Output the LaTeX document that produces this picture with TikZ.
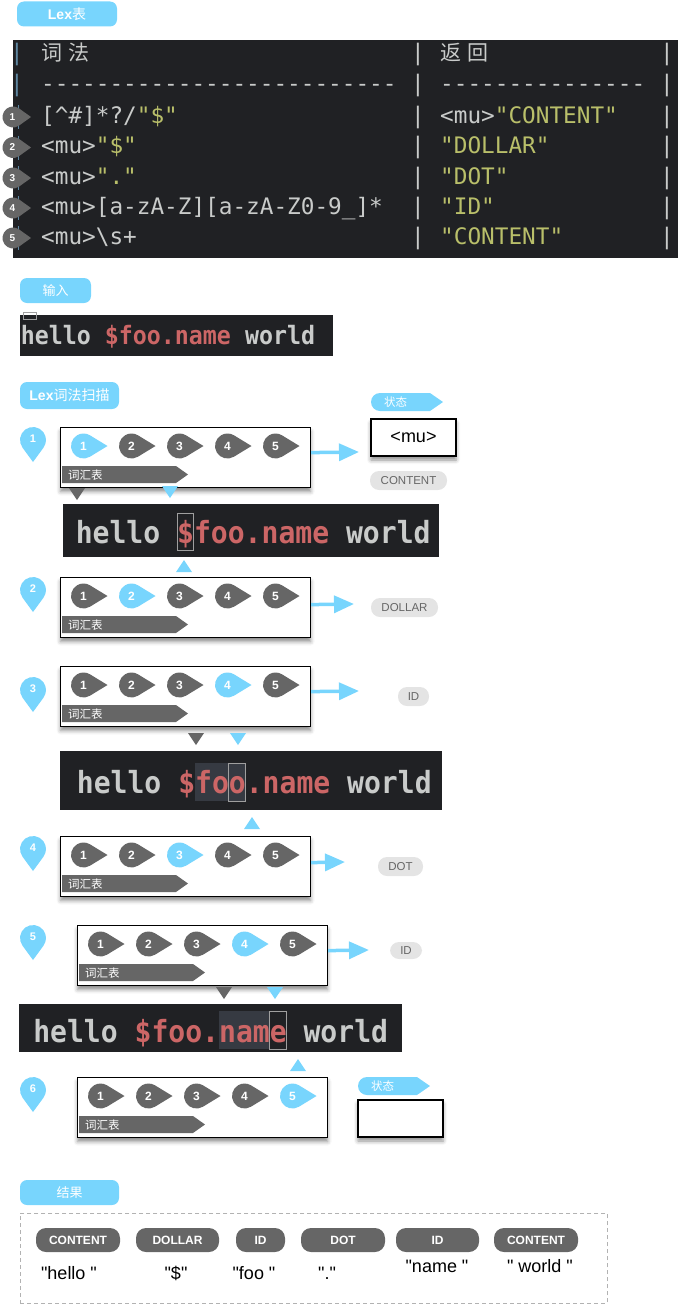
\documentclass[tikz,border=0pt]{standalone}
\usepackage{fontspec}
\setmainfont[Ligatures=TeXOff]{Liberation Sans}
\newfontfamily\cjk{Noto Sans CJK SC}
\newfontfamily\codefont[Ligatures=TeXOff]{DejaVu Sans Mono}
\newfontfamily\stripfont[Ligatures=TeXOff,FakeStretch=0.92]{DejaVu Sans Mono}
\usepackage{tikz}
\usetikzlibrary{shapes,arrows.meta}
\usetikzlibrary{calc}
\usetikzlibrary{shadows.blur}

\definecolor{lexblue}{HTML}{78D5FD}
\definecolor{markgray}{HTML}{666666}
\definecolor{codebg}{HTML}{202124}
\definecolor{codetext}{HTML}{C9CBCA}
\definecolor{codeyellow}{HTML}{B9BF6A}
\definecolor{codered}{HTML}{CC6666}
\definecolor{codepipe}{HTML}{5E86A0}
\definecolor{pillgray}{HTML}{E4E4E4}
\definecolor{pilltext}{HTML}{666666}
\definecolor{hlbg}{HTML}{363A42}

\tikzset{
	headpill/.style={fill=lexblue, rounded corners=7pt, text=white, inner sep=0pt, minimum height=25pt, font=\fontsize{14}{16}\selectfont},
	stepbox/.style={draw=black, line width=1.2pt, fill=white, minimum width=250pt, minimum height=60pt, anchor=north west,
		blur shadow={shadow xshift=0pt, shadow yshift=-4pt, shadow blur radius=4pt, shadow opacity=45}},
	statebox/.style={draw=black, line width=1.2pt, fill=white, minimum width=85pt, minimum height=37pt, inner sep=0pt,
		font=\fontsize{18}{20}\selectfont, blur shadow={shadow xshift=0pt, shadow yshift=-4pt, shadow blur radius=4pt, shadow opacity=45}},
	strip/.style={fill=codebg, anchor=north west, inner sep=0pt},
	striptext/.style={anchor=base west, inner sep=0pt, text=codetext, font=\stripfont\bfseries\fontsize{30.5}{32}\selectfont},
	cursor/.style={draw=gray!75, line width=1pt},
	tabrow/.style={anchor=base west, inner sep=0pt, text=codetext, font=\codefont\fontsize{22.7}{24}\selectfont},
	tabpipe/.style={anchor=base, inner sep=0pt, text=codetext, font=\codefont\fontsize{22.7}{24}\selectfont},
	marknum/.style={text=white, inner sep=0pt, font=\bfseries\fontsize{12}{14}\selectfont},
	greypill/.style={fill=pillgray, rounded corners=9pt, text=pilltext, inner sep=0pt, minimum height=19pt, font=\fontsize{11.5}{13}\selectfont},
	tokpill/.style={fill=markgray, rounded corners=10pt, text=white, inner sep=0pt, minimum height=24pt, font=\bfseries\fontsize{12}{14}\selectfont},
	tokval/.style={inner sep=0pt, font=\fontsize{18}{20}\selectfont},
	flowarrow/.style={draw=lexblue, line width=3.5pt, -{Triangle[length=20pt,width=17pt]}},
}

\begin{document}
\begin{tikzpicture}[x=1pt,y=-1pt]
	\useasboundingbox (0,0) rectangle (678,1306);
	\def\cw{16.9} % char width in the code strips
	
	% helpers
	\def\rulemark#1#2#3#4#5{% name, x, y, number, colour
		\fill[fill=#5] (#2+24,#3) -- ([shift={(58.7:12.5)}]#2,#3) arc[start angle=58.7, end angle=301.3, radius=12.5] -- cycle;
		\node[marknum] (#1) at (#2,#3) {#4};
	}
	\def\tabmark#1#2{% number, y
		\draw[codepipe, line width=1.6pt] (18.5,#2-12) -- (18.5,#2+12);
		\fill[markgray] (31,#2) -- ([shift={(54.3:10.5)}]13,#2) arc[start angle=54.3, end angle=305.7, radius=10.5] -- cycle;
		\node[marknum, font=\bfseries\fontsize{10}{12}\selectfont] (tm#1) at (12.5,#2) {#1};
	}
	\def\lexpin#1#2{% number, top y
		\fill[lexblue] (33,#2+35) -- ([shift={(143.8:13)}]33,#2+13) arc[start angle=143.8, end angle=396.2, radius=13] -- cycle;
		\node[marknum, font=\bfseries\fontsize{11}{13}\selectfont] (pin#1) at (33,#2+12) {#1};
	}
	\def\lexstep#1#2#3#4{% step, left x, top y, rule in use
		\node[stepbox] (box#1) at (#2,#3) {};
		\foreach \k in {1,...,5} {
			\pgfmathsetmacro\xm{#2+23.5+48*(\k-1)}
			\ifnum\k=#4 \def\mc{lexblue}\else\def\mc{markgray}\fi
			\rulemark{b#1m\k}{\xm}{#3+19}{\k}{\mc}
		}
		\fill[markgray] (#2+2,#3+39) -- (#2+116,#3+39) -- (#2+128,#3+47.5) -- (#2+116,#3+56) -- (#2+2,#3+56) -- cycle;
		\node[anchor=west, inner sep=0pt, text=white, font=\cjk\fontsize{11.5}{13}\selectfont] (vocab#1) at (#2+8,#3+48) {词汇表};
	}
	\def\downtri#1#2#3{% colour, x, top y
		\fill[fill=#1] (#2-8,#3) -- (#2+8,#3) -- (#2,#3+12) -- cycle;
	}
	\def\uptri#1#2#3{% colour, x, top y
		\fill[fill=#1] (#2,#3) -- (#2+8,#3+12) -- (#2-8,#3+12) -- cycle;
	}
	\def\statetag#1#2#3{% name, left x, top y
		\fill[lexblue] (#2+72,#3+9) -- (#2+59,#3+18) -- (#2+9,#3+18) arc[start angle=90, end angle=270, radius=9] -- (#2+59,#3) -- cycle;
		\node[anchor=west, inner sep=0pt, text=white, font=\cjk\fontsize{11.5}{13}\selectfont] (#1) at (#2+13,#3+9.5) {状态};
	}
	
	% Lex table
	\node[headpill, minimum width=100pt] (lextitle) at (67,14) {\textbf{Lex}{\cjk 表}};
	\node[strip, minimum width=665pt, minimum height=218pt] (lextable) at (13,40) {};
	\node[tabpipe, text=codepipe] (lp1) at (17,61) {|};
	\node[tabpipe, text=codepipe] (lp2) at (17,92) {|};
	\foreach \y [count=\i] in {61,92,123,153.5,184,214,244.5} {
		\node[tabpipe] (mp\i) at (418,\y) {|};
		\node[tabpipe] (rp\i) at (667,\y) {|};
	}
	\node[tabrow, font=\cjk\fontsize{21}{24}\selectfont] (head1) at (41,60) {词\hspace{6.4pt}法};
	\node[tabrow, font=\cjk\fontsize{21}{24}\selectfont] (head2) at (440,60) {返\hspace{6.4pt}回};
	\node[tabrow] (dash1) at (41,92) {--------------------------};
	\node[tabrow] (dash2) at (440,92) {---------------};
	\node[tabrow] (rule1) at (41,123) {[\textasciicircum\#]*?/\textcolor{codeyellow}{"\$"}};
	\node[tabrow] (rule2) at (41,153.5) {<mu>\textcolor{codeyellow}{"\$"}};
	\node[tabrow] (rule3) at (41,184) {<mu>\textcolor{codeyellow}{"."}};
	\node[tabrow] (rule4) at (41,214) {<mu>[a-zA-Z][a-zA-Z0-9\_]*};
	\node[tabrow] (rule5) at (41,244.5) {<mu>\textbackslash s+};
	\node[tabrow] (ret1) at (440,123) {<mu>\textcolor{codeyellow}{"CONTENT"}};
	\node[tabrow, text=codeyellow] (ret2) at (440,153.5) {"DOLLAR"};
	\node[tabrow, text=codeyellow] (ret3) at (440,184) {"DOT"};
	\node[tabrow, text=codeyellow] (ret4) at (440,214) {"ID"};
	\node[tabrow, text=codeyellow] (ret5) at (440,244.5) {"CONTENT"};
	\tabmark{1}{117}
	\tabmark{2}{147.5}
	\tabmark{3}{178}
	\tabmark{4}{208}
	\tabmark{5}{238}
	
	% input
	\node[headpill, minimum width=71pt, font=\cjk\fontsize{13}{15}\selectfont] (intitle) at (55.5,290.5) {输入};
	\node[strip, minimum width=313pt, minimum height=41pt] (input) at (20,315) {};
	\draw[cursor] (23,312) rectangle (36,319);
	\node[striptext, font=\stripfont\bfseries\fontsize{25.3}{27}\selectfont] (intext) at (20.6,344) {hello \textcolor{codered}{\$foo.name} world};
	
	% scanning
	\node[headpill, minimum width=99pt, minimum height=27pt] (scantitle) at (69.5,395.5) {\textbf{Lex}{\cjk 词法扫描}};
	
	% step 1
	\lexpin{1}{427}
	\lexstep{1}{60}{427}{1}
	\coordinate (out1) at (359,452);
	\draw[flowarrow] ([yshift=5pt]box1.east) -- (out1);
	\statetag{state1}{371}{393}
	\node[statebox] (mu1) at (413.5,437.5) {<mu>};
	\node[greypill, minimum width=77pt] (tok1) at (408.5,480.5) {CONTENT};
	\downtri{markgray}{77}{488}
	\downtri{lexblue}{170}{486}
	
	% strip 1
	\node[strip, minimum width=376pt, minimum height=53pt] (code1) at (63,504) {};
	\draw[cursor] (75.6+6*\cw,513) rectangle (75.6+7*\cw,550);
	\node[striptext] (text1) at (75.6,543) {hello \textcolor{codered}{\$foo.name} world};
	\uptri{lexblue}{184}{560}
	
	% step 2
	\lexpin{2}{577}
	\lexstep{2}{60}{577}{2}
	\coordinate (out2) at (354,604);
	\draw[flowarrow] ([yshift=3pt]box2.east) -- (out2);
	\node[greypill, minimum width=67pt] (tok2) at (404.5,607.5) {DOLLAR};
	
	% step 3
	\lexpin{3}{677}
	\lexstep{3}{60}{666}{4}
	\coordinate (out3) at (359,691);
	\draw[flowarrow] ([yshift=5pt]box3.east) -- (out3);
	\node[greypill, minimum width=31pt] (tok3) at (413.5,696.5) {ID};
	\downtri{markgray}{196}{733}
	\downtri{lexblue}{238}{733}
	
	% strip 2
	\node[strip, minimum width=382pt, minimum height=59pt] (code2) at (60,751) {};
	\fill[hlbg] (76.7+7*\cw,763) rectangle (76.7+10*\cw,801);
	\draw[cursor] (76.7+9*\cw,763) rectangle (76.7+10*\cw,801);
	\node[striptext] (text2) at (76.7,793) {hello \textcolor{codered}{\$foo.name} world};
	\uptri{lexblue}{252}{817}
	
	% step 4
	\lexpin{4}{836}
	\lexstep{4}{60}{836}{3}
	\coordinate (out4) at (345,862);
	\draw[flowarrow] ([yshift=4pt]box4.east) -- (out4);
	\node[greypill, minimum width=45pt] (tok4) at (400.5,866.5) {DOT};
	
	% step 5
	\lexpin{5}{925}
	\lexstep{5}{77}{925}{4}
	\coordinate (out5) at (369,950);
	\draw[flowarrow] ([yshift=5pt]box5.east) -- (out5);
	\node[greypill, minimum width=32pt, minimum height=17pt] (tok5) at (406,950.5) {ID};
	\downtri{markgray}{224}{987}
	\downtri{lexblue}{275}{987}
	
	% strip 3
	\node[strip, minimum width=383pt, minimum height=48pt] (code3) at (19,1004) {};
	\fill[hlbg] (33.1+11*\cw,1011) rectangle (33.1+14*\cw,1049);
	\draw[cursor] (33.1+14*\cw,1011) rectangle (33.1+15*\cw,1049);
	\node[striptext] (text3) at (33.1,1042) {hello \textcolor{codered}{\$foo.name} world};
	\uptri{lexblue}{298}{1059}
	
	% step 6
	\lexpin{6}{1077}
	\lexstep{6}{77}{1077}{5}
	\statetag{state6}{358}{1077}
	\node[statebox] (mu6) at (400.5,1118.5) {};
	
	% result
	\node[headpill, minimum width=99pt, font=\cjk\fontsize{13}{15}\selectfont] (restitle) at (69.5,1192.5) {结果};
	\node[draw=gray!60, dash pattern=on 4pt off 3pt, line width=0.8pt, minimum width=587pt, minimum height=90pt, anchor=north west] (resultbox) at (20,1213) {};
	\node[tokpill, minimum width=84pt] (res1) at (78,1240) {CONTENT};
	\node[tokpill, minimum width=83pt] (res2) at (177.5,1240) {DOLLAR};
	\node[tokpill, minimum width=49pt] (res3) at (260.5,1240) {ID};
	\node[tokpill, minimum width=84pt] (res4) at (343,1240) {DOT};
	\node[tokpill, minimum width=83pt] (res5) at (437.5,1240) {ID};
	\node[tokpill, minimum width=84pt] (res6) at (536,1240) {CONTENT};
	\node[tokval] (val1) at (69,1273) {"hello "};
	\node[tokval] (val2) at (176,1273) {"\$"};
	\node[tokval] (val3) at (254,1273) {"foo "};
	\node[tokval] (val4) at (327,1273) {"."};
	\node[tokval] (val5) at (437,1266) {"name "};
	\node[tokval] (val6) at (540,1266) {" world "};
\end{tikzpicture}
\end{document}
